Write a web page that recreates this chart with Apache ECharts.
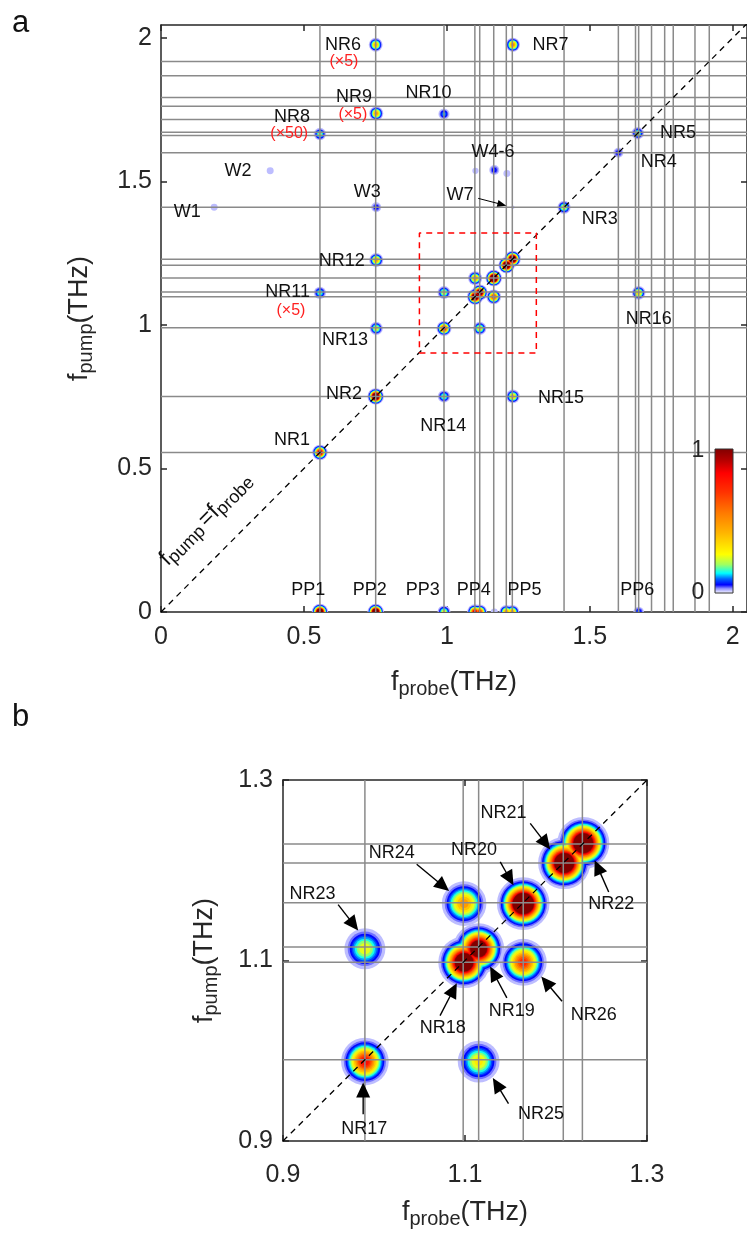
<!DOCTYPE html>
<html><head><meta charset="utf-8">
<script src="https://cdn.jsdelivr.net/npm/echarts@6/dist/echarts.min.js"></script>
<style>html,body{margin:0;padding:0;background:#fff}#c{width:747px;height:1247px}</style>
</head><body><div id="c"></div>
<script>
// ================= DATA =================
// mode frequencies (THz) drawn as grid lines on both axes
const modeFreqs = [0.556,0.751,0.99,1.098,1.115,1.164,1.208,1.229,1.41,1.60,1.66,1.671,1.716,1.762,1.792,1.868,1.918];

// peaks: probe (x), pump (y), normalised amplitude (values >1 saturate the colour scale)
const peakNames = ['NR1','NR2','NR3','NR4','NR5','NR6','NR7','NR8','NR9','NR10','NR11','NR12','NR13','NR14','NR15','NR16',
  'NR17','NR18','NR19','NR20','NR21','NR22','NR23','NR24','NR25','NR26',
  'W1','W2','W3','W4','W5','W6','W7',
  'PP1','PP2','PP3','PP4a','PP4b','PPw','PP5a','PP5b','PP6'];
const peakProbe = [0.556,0.751,1.41,1.60,1.668,0.751,1.231,0.556,0.753,0.99,0.556,0.753,0.753,0.99,1.231,1.671,
  0.99,1.099,1.115,1.164,1.209,1.230,0.99,1.099,1.115,1.164,
  0.186,0.382,0.753,1.10,1.166,1.21,1.231,
  0.556,0.751,0.99,1.098,1.115,1.166,1.208,1.229,1.671];
const peakPump = [0.556,0.751,1.41,1.60,1.668,1.976,1.976,1.665,1.737,1.735,1.112,1.226,0.988,0.751,0.751,1.112,
  0.988,1.098,1.113,1.163,1.208,1.230,1.113,1.163,0.988,1.098,
  1.41,1.537,1.41,1.537,1.540,1.528,1.41,
  0,0,0,0,0,0,0,0,0];
const peakAmp = [1.1,2.0,0.3,0.08,0.22,0.45,0.55,0.22,0.5,0.12,0.2,0.5,0.3,0.22,0.4,0.4,
  0.85,1.8,1.6,2.2,2.0,2.0,0.28,0.5,0.32,0.75,
  0.03,0.03,0.08,0.025,0.08,0.03,0.015,
  2.0,2.0,0.3,1.0,0.8,0.03,0.5,0.5,0.1];

// panel a annotations (text, anchor in THz)
const annoAText = ['NR1','NR2','NR3','NR4','NR5','NR6','NR7','NR8','NR9','NR10','NR11','NR12','NR13','NR14','NR15','NR16',
  'W1','W2','W3','W4-6','W7','PP1','PP2','PP3','PP4','PP5','PP6'];
const annoAX = [0.458,0.64,1.535,1.7415,1.8087,0.6365,1.3624,0.458,0.6748,0.9357,0.4429,0.632,0.6435,0.9878,1.3993,1.7067,
  0.0916,0.269,0.7212,1.1617,1.0459,0.515,0.73,0.916,1.094,1.272,1.666];
const annoAY = [0.5983,0.7583,1.3694,1.5663,1.6672,1.9757,1.9757,1.7229,1.7948,1.8064,1.1141,1.2243,0.9461,0.647,0.7467,1.0216,
  1.3924,1.5374,1.462,1.6011,1.4528,0.0765,0.0765,0.0765,0.0765,0.0765,0.0765];
const scaleText = ['(×5)','(×5)','(×50)','(×5)'];
const scaleX = [0.64,0.6713,0.4487,0.4545];
const scaleY = [1.9177,1.7346,1.665,1.0504];
// W7 arrow: from -> to
const arrowA = [[1.1096,1.4411,1.208,1.4157]];
// zoom box (panel a)
const boxX = [0.904,1.313];
const boxY = [0.902,1.32];

// panel b annotations
const annoBText = ['NR17','NR18','NR19','NR20','NR21','NR22','NR23','NR24','NR25','NR26'];
const annoBX = [0.9892,1.0755,1.1515,1.11,1.1423,1.2606,0.9324,1.0194,1.1835,1.2414];
const annoBY = [0.913,1.0252,1.0437,1.2222,1.2637,1.1622,1.1741,1.2186,0.9296,1.04];
const arrowB = [
  [0.9881,0.9296,0.9881,0.9648],
  [1.0726,1.0389,1.091,1.0748],
  [1.146,1.0586,1.1276,1.0933],
  [1.1387,1.2092,1.1533,1.1833],
  [1.1717,1.2519,1.1937,1.223],
  [1.2579,1.1759,1.2425,1.2111],
  [0.9606,1.1619,0.9826,1.1333],
  [1.0469,1.2067,1.0825,1.177],
  [1.1478,0.9414,1.1306,0.9697],
  [1.2066,1.0548,1.1838,1.0822]];

// axis ticks
const ticksA = [0,0.5,1,1.5,2];
const ticksB = [0.9,1.1,1.3];
// ================= STYLE =================
const FONT = 'Liberation Sans, Arial, Helvetica, sans-serif';
const AX = '#262626';
const GRIDC = '#8a8a8a';
const SIGMA = 0.009; // peak width (THz)
const LEVELS = [0.012,0.03,0.05,0.075,0.1,0.13,0.17,0.22,0.28,0.35,0.43,0.52,0.6,0.68,0.76,0.84,0.9,0.95];
const cmapStops = [[0,'#ffffff'],[0.015,'#d2d2ff'],[0.035,'#8c8cff'],[0.06,'#0000ff'],[0.1,'#0064ff'],[0.14,'#00ffff'],
  [0.2,'#a0ff60'],[0.27,'#ffff00'],[0.42,'#ffb400'],[0.56,'#ff7800'],[0.7,'#ff3200'],[0.83,'#ff0000'],[0.92,'#b40000'],[1,'#800000']];
function hex2rgb(h){return [parseInt(h.substr(1,2),16),parseInt(h.substr(3,2),16),parseInt(h.substr(5,2),16)];}
function cmap(v){
  v=Math.max(0,Math.min(1,v));
  for(let i=1;i<cmapStops.length;i++){
    if(v<=cmapStops[i][0]){
      const a=cmapStops[i-1], b=cmapStops[i];
      const t=(v-a[0])/(b[0]-a[0]);
      const ca=hex2rgb(a[1]), cb=hex2rgb(b[1]);
      return 'rgb('+ca.map((c,k)=>Math.round(c+(cb[k]-c)*t)).join(',')+')';
    }
  }
  return cmapStops[cmapStops.length-1][1];
}

const blobData = [];
LEVELS.forEach((l,li)=>peakProbe.forEach((x,i)=>blobData.push([x,peakPump[i],peakAmp[i],li])));

function blobRender(params, api){
  const x=api.value(0), y=api.value(1), A=api.value(2), li=api.value(3);
  const l=LEVELS[li];
  if(!(A>l)) return null;
  const rT=SIGMA*Math.sqrt(2*Math.log(A/l));
  const c=api.coord([x,y]);
  const s=api.size([rT,rT]);
  const r=(s[0]+s[1])/2;
  const mid = li<LEVELS.length-1 ? (l+LEVELS[li+1])/2 : 1;
  return {type:'circle', z2:li, shape:{cx:c[0],cy:c[1],r:r}, style:{fill:cmap(mid)}};
}
function gridLineRender(params, api){
  const c=api.coord([api.value(0),api.value(1)]);
  const cs=params.coordSys;
  const st={stroke:GRIDC,lineWidth:1.5};
  return {type:'group',children:[
    {type:'line',shape:{x1:c[0],y1:cs.y,x2:c[0],y2:cs.y+cs.height},style:st},
    {type:'line',shape:{x1:cs.x,y1:c[1],x2:cs.x+cs.width,y2:c[1]},style:st}]};
}
function textRender(texts, color, fs){
  return function(params, api){
    const c=api.coord([api.value(0),api.value(1)]);
    const i=api.value(2);
    return {type:'text',x:c[0],y:c[1],style:{text:texts[i],fill:color,fontSize:fs,fontFamily:FONT,align:'center',verticalAlign:'middle'}};
  };
}
function arrowRender(headLen, headW, lw){
  return function(params, api){
    const p1=api.coord([api.value(0),api.value(1)]), p2=api.coord([api.value(2),api.value(3)]);
    const dx=p2[0]-p1[0], dy=p2[1]-p1[1], L=Math.hypot(dx,dy);
    const ux=dx/L, uy=dy/L, bx=p2[0]-ux*headLen, by=p2[1]-uy*headLen, nx=-uy, ny=ux;
    return {type:'group',children:[
      {type:'line',shape:{x1:p1[0],y1:p1[1],x2:bx+ux*2,y2:by+uy*2},style:{stroke:'#000',lineWidth:lw}},
      {type:'polygon',shape:{points:[[p2[0],p2[1]],[bx+nx*headW,by+ny*headW],[bx-nx*headW,by-ny*headW]]},style:{fill:'#000'}}]};
  };
}

const nameRich = {
  m:{fontSize:27,color:AX,fontFamily:FONT,verticalAlign:'top',lineHeight:30},
  s:{fontSize:20,color:AX,fontFamily:FONT,verticalAlign:'bottom',padding:[17,0,0,0],lineHeight:20}
};
function xAx(grid,min,max,ticks,pos,name,gap,margin){
  return {type:'value',gridIndex:grid,min:min,max:max,position:pos,
    axisLine:{onZero:false,lineStyle:{color:AX,width:1.5}},
    axisTick:{show:true,inside:true,length:6,customValues:ticks,lineStyle:{color:AX,width:1.5}},
    axisLabel:{show:pos==='bottom',customValues:ticks,color:AX,fontSize:25,fontFamily:FONT,margin:margin},
    splitLine:{show:false},
    name:pos==='bottom'?name:'',nameLocation:'middle',nameGap:gap,nameTextStyle:{rich:nameRich}};
}
function yAx(grid,min,max,ticks,pos,name,gap,margin){
  return {type:'value',gridIndex:grid,min:min,max:max,position:pos,
    axisLine:{onZero:false,lineStyle:{color:AX,width:1.5}},
    axisTick:{show:true,inside:true,length:6,customValues:ticks,lineStyle:{color:AX,width:1.5}},
    axisLabel:{show:pos==='left',customValues:ticks,color:AX,fontSize:25,fontFamily:FONT,margin:margin},
    splitLine:{show:false},
    name:pos==='left'?name:'',nameLocation:'middle',nameGap:gap,nameRotate:90,nameTextStyle:{rich:nameRich}};
}

const chart = echarts.init(document.getElementById('c'),null,{renderer:'canvas'});
const option = {
  animation:false,
  backgroundColor:'#fff',
  grid:[
    {left:161,top:25,width:589,height:587},
    {left:283,top:780,width:364,height:361}
  ],
  xAxis:[
    xAx(0,0,2.05,ticksA,'bottom','{m|f}{s|probe}{m|(THz)}',57,13),
    xAx(0,0,2.05,ticksA,'top','',0,0),
    xAx(1,0.9,1.3,ticksB,'bottom','{m|f}{s|probe}{m|(THz)}',58,22),
    xAx(1,0.9,1.3,ticksB,'top','',0,0)
  ],
  yAxis:[
    yAx(0,0,2.045,ticksA,'left','{m|f}{s|pump}{m|(THz)}',65,9),
    yAx(0,0,2.045,ticksA,'right','',0,0),
    yAx(1,0.9,1.3,ticksB,'left','{m|f}{s|pump}{m|(THz)}',62,10),
    yAx(1,0.9,1.3,ticksB,'right','',0,0)
  ],
  series:[
    {type:'custom',xAxisIndex:0,yAxisIndex:0,renderItem:blobRender,data:blobData,clip:true,z:2,silent:true,encode:{x:0,y:1}},
    {type:'custom',xAxisIndex:0,yAxisIndex:0,renderItem:gridLineRender,data:modeFreqs.map(f=>[f,f]),clip:true,z:3,silent:true,encode:{x:0,y:1}},
    {type:'line',xAxisIndex:0,yAxisIndex:0,data:[[0,0],[2.05,2.05]],symbol:'none',clip:true,z:4,
      lineStyle:{color:'#000',width:1.3,type:[6,5]}},
    {type:'line',xAxisIndex:0,yAxisIndex:0,data:[[boxX[0],boxY[0]],[boxX[1],boxY[0]],[boxX[1],boxY[1]],[boxX[0],boxY[1]],[boxX[0],boxY[0]]],
      symbol:'none',z:4,lineStyle:{color:'#ff0000',width:1.5,type:[6,5]}},
    {type:'custom',xAxisIndex:0,yAxisIndex:0,renderItem:textRender(annoAText,'#111',18),data:annoAX.map((x,i)=>[x,annoAY[i],i]),clip:false,z:6,encode:{x:0,y:1}},
    {type:'custom',xAxisIndex:0,yAxisIndex:0,renderItem:textRender(scaleText,'#ff2020',16),data:scaleX.map((x,i)=>[x,scaleY[i],i]),clip:false,z:6,encode:{x:0,y:1}},
    {type:'custom',xAxisIndex:0,yAxisIndex:0,renderItem:arrowRender(9,3.5,1),data:arrowA,clip:false,z:6,encode:{x:0,y:1}},
    {type:'custom',xAxisIndex:0,yAxisIndex:0,data:[[0.16,0.32]],clip:false,z:6,encode:{x:0,y:1},
      renderItem:function(params,api){
        const c=api.coord([api.value(0),api.value(1)]);
        return {type:'text',x:c[0],y:c[1],rotation:Math.PI/4,style:{
          text:'{m|f}{s|pump} {m|=f}{s|probe}',align:'center',verticalAlign:'middle',
          rich:{m:{fontSize:23,fontFamily:FONT,fill:'#111',verticalAlign:'top',lineHeight:25},
                s:{fontSize:18,fontFamily:FONT,fill:'#111',verticalAlign:'bottom',padding:[14,0,0,0],lineHeight:18}}}};
      }},
    // panel b
    {type:'custom',xAxisIndex:2,yAxisIndex:2,renderItem:blobRender,data:blobData,clip:true,z:2,silent:true,encode:{x:0,y:1}},
    {type:'custom',xAxisIndex:2,yAxisIndex:2,renderItem:gridLineRender,data:modeFreqs.map(f=>[f,f]),clip:true,z:3,silent:true,encode:{x:0,y:1}},
    {type:'line',xAxisIndex:2,yAxisIndex:2,data:[[0.9,0.9],[1.3,1.3]],symbol:'none',clip:true,z:4,
      lineStyle:{color:'#000',width:1.3,type:[6,5]}},
    {type:'custom',xAxisIndex:2,yAxisIndex:2,renderItem:arrowRender(15,7,1.4),data:arrowB,clip:false,z:6,encode:{x:0,y:1}},
    {type:'custom',xAxisIndex:2,yAxisIndex:2,renderItem:textRender(annoBText,'#111',18),data:annoBX.map((x,i)=>[x,annoBY[i],i]),clip:false,z:6,encode:{x:0,y:1}}
  ],
  graphic:[
    {type:'text',left:12,top:8,style:{text:'a',fontSize:31,fontFamily:FONT,fill:'#111'}},
    {type:'text',left:12,top:702,style:{text:'b',fontSize:31,fontFamily:FONT,fill:'#111'}},
    {type:'rect',shape:{x:715,y:449,width:18,height:144},z:10,style:{
      fill:new echarts.graphic.LinearGradient(0,1,0,0,cmapStops.map(s=>({offset:s[0],color:s[1]}))),
      stroke:'#333',lineWidth:1}},
    {type:'text',x:698,y:451,z:10,style:{text:'1',fontSize:23,fontFamily:FONT,fill:AX,align:'center',verticalAlign:'middle'}},
    {type:'text',x:698,y:593,z:10,style:{text:'0',fontSize:23,fontFamily:FONT,fill:AX,align:'center',verticalAlign:'middle'}}
  ]
};
chart.setOption(option);
</script></body></html>
